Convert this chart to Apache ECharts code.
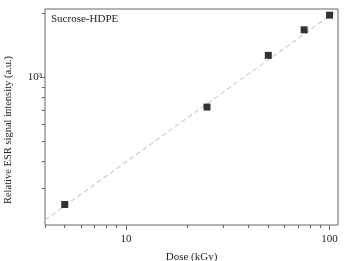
<!DOCTYPE html>
<html>
<head>
<meta charset="utf-8">
<script src="https://cdn.jsdelivr.net/npm/echarts@6/dist/echarts.min.js"></script>
<style>
  html, body { margin: 0; padding: 0; background: #fff; }
  #chart { width: 344px; height: 261px; }
</style>
</head>
<body>
<div id="chart"></div>
<script>
// measured points
const doses = [5, 25, 50, 75, 100];
const intensity = [250, 722, 1268, 1674, 1964];
// fitted line (log-log), two ends
const fitDose = [4, 106];
const fitIntensity = [211, 2030];
// ticks
const xMinorTicks = [4, 5, 6, 7, 8, 9, 20, 30, 40, 50, 60, 70, 80, 90];
const xMajorTicks = [10, 100];
const yMinorTicks = [300, 400, 500, 600, 700, 800, 900, 2000];
const yMajorTicks = [1000];

const font = 'Liberation Serif';
const axisCol = '#666';

const chart = echarts.init(document.getElementById('chart'));

const baseX = {
  type: 'log', logBase: 10, min: 4, max: 110,
  axisLine: { show: false },
  splitLine: { show: false },
  minorTick: { show: false }
};
const baseY = {
  type: 'log', logBase: 10, min: 200, max: 2100,
  axisLine: { show: false },
  splitLine: { show: false },
  minorTick: { show: false }
};

const option = {
  animation: false,
  grid: {
    left: 45, top: 9, right: 6, bottom: 36,
    outerBoundsMode: 'none', containLabel: false,
    show: true, borderColor: axisCol, borderWidth: 1
  },
  xAxis: [
    Object.assign({}, baseX, {
      name: 'Dose (kGy)', nameLocation: 'middle', nameGap: 27,
      nameTextStyle: { fontFamily: font, fontSize: 11, color: '#222' },
      axisTick: { show: true, length: 3, lineStyle: { color: axisCol }, customValues: xMinorTicks },
      axisLabel: { show: false }
    }),
    Object.assign({}, baseX, {
      position: 'bottom',
      axisTick: { show: true, length: 5, lineStyle: { color: axisCol }, customValues: xMajorTicks },
      axisLabel: { show: true, customValues: xMajorTicks, fontFamily: font, fontSize: 11, color: '#222', margin: 9 }
    })
  ],
  yAxis: [
    Object.assign({}, baseY, {
      axisTick: { show: true, length: 3, lineStyle: { color: axisCol }, customValues: yMinorTicks },
      axisLabel: { show: false }
    }),
    Object.assign({}, baseY, {
      position: 'left',
      axisTick: { show: true, length: 5, lineStyle: { color: axisCol }, customValues: yMajorTicks },
      axisLabel: {
        show: true, customValues: yMajorTicks, fontFamily: font, fontSize: 11, color: '#222', margin: 3,
        formatter: () => '10³'
      }
    })
  ],
  graphic: [{
    type: 'text', x: 8, y: 130, rotation: Math.PI / 2,
    style: {
      text: 'Relative ESR signal intensity (a.u.)',
      font: '10.5px "Liberation Serif"', fill: '#222',
      align: 'center', verticalAlign: 'middle'
    }
  }, {
    type: 'text', left: 51, top: 14,
    style: { text: 'Sucrose-HDPE', font: '11px "Liberation Serif"', fill: '#222' }
  }],
  series: [
    {
      type: 'line',
      data: fitDose.map((d, i) => [d, fitIntensity[i]]),
      showSymbol: false,
      lineStyle: { color: '#cfcfcf', width: 1.2, type: [5, 3] },
      z: 1
    },
    {
      type: 'scatter',
      data: doses.map((d, i) => [d, intensity[i]]),
      symbol: 'rect', symbolSize: 7,
      itemStyle: { color: '#000' },
      z: 3
    }
  ]
};

chart.setOption(option);
</script>
</body>
</html>
